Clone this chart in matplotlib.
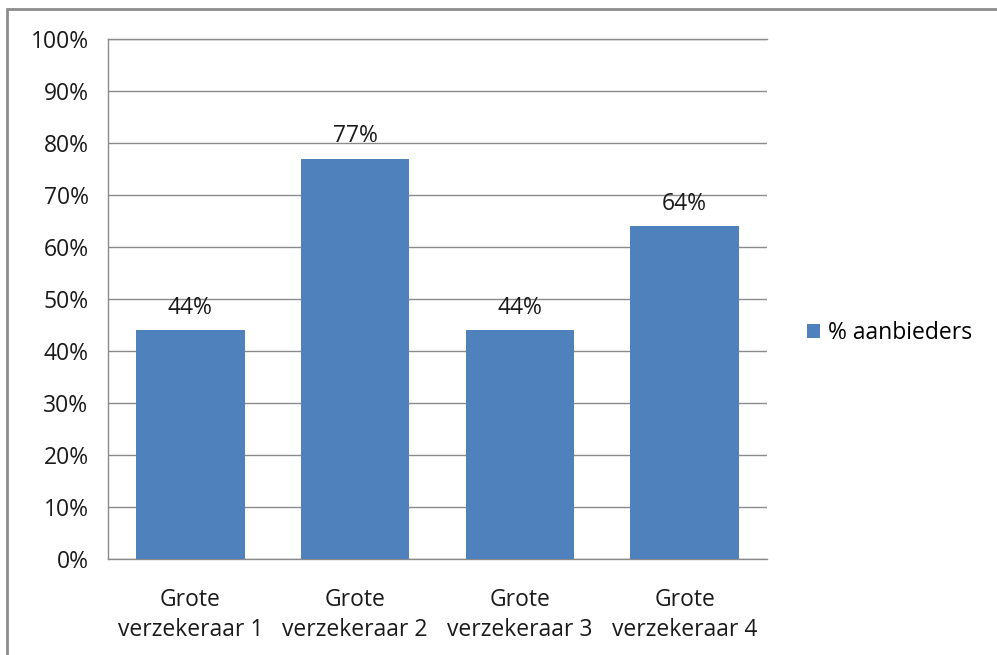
import matplotlib.pyplot as plt
from matplotlib.patches import Rectangle

categories = ["Grote\nverzekeraar 1", "Grote\nverzekeraar 2", "Grote\nverzekeraar 3", "Grote\nverzekeraar 4"]
values = [44, 77, 44, 64]
series_name = "% aanbieders"
yticks = list(range(0, 101, 10))

W, H = 997, 655
plt.rcParams['font.family'] = ['Open Sans', 'DejaVu Sans']
FS = 16.5

fig = plt.figure(figsize=(W / 100, H / 100), dpi=100)
ax = fig.add_axes([108 / W, 1 - 559 / H, (767 - 108) / W, (559 - 39) / H])

bars = ax.bar(range(len(values)), values, width=0.66, color='#4F81BD', label=series_name, zorder=3)
for i, v in enumerate(values):
    ax.text(i, v + 2.0, f"{v}%", ha='center', va='bottom', fontsize=FS, color='#1a1a1a')

ax.set_xlim(-0.5, len(values) - 0.5)
ax.set_ylim(0, 100)
ax.set_yticks(yticks)
ax.set_yticklabels([f"{t}%" for t in yticks], fontsize=FS, color='#1a1a1a')
ax.set_xticks(range(len(values)))
ax.set_xticklabels(categories, fontsize=FS, color='#1a1a1a', linespacing=1.35)
ax.tick_params(axis='y', length=0, pad=14)
ax.tick_params(axis='x', length=0, pad=21)
ax.grid(axis='y', color='#8a8a8a', linewidth=1, zorder=0)
ax.spines['right'].set_visible(False)
for s in ax.spines.values():
    s.set_color('#8a8a8a')
    s.set_linewidth(1)

leg = fig.legend(handles=[bars], labels=[series_name], loc='center left',
                 bbox_to_anchor=(786 / W, 1 - 333 / H), frameon=False, fontsize=FS,
                 handlelength=0.6, handleheight=0.6, handletextpad=0.35)

# outer chart border
fig.patches.append(Rectangle((7 / W, -0.05), 1.05, 1 - 9 / H + 0.05, transform=fig.transFigure,
                             fill=False, edgecolor='#8c8c8c', linewidth=2))

fig.savefig("out.png", dpi=100)
